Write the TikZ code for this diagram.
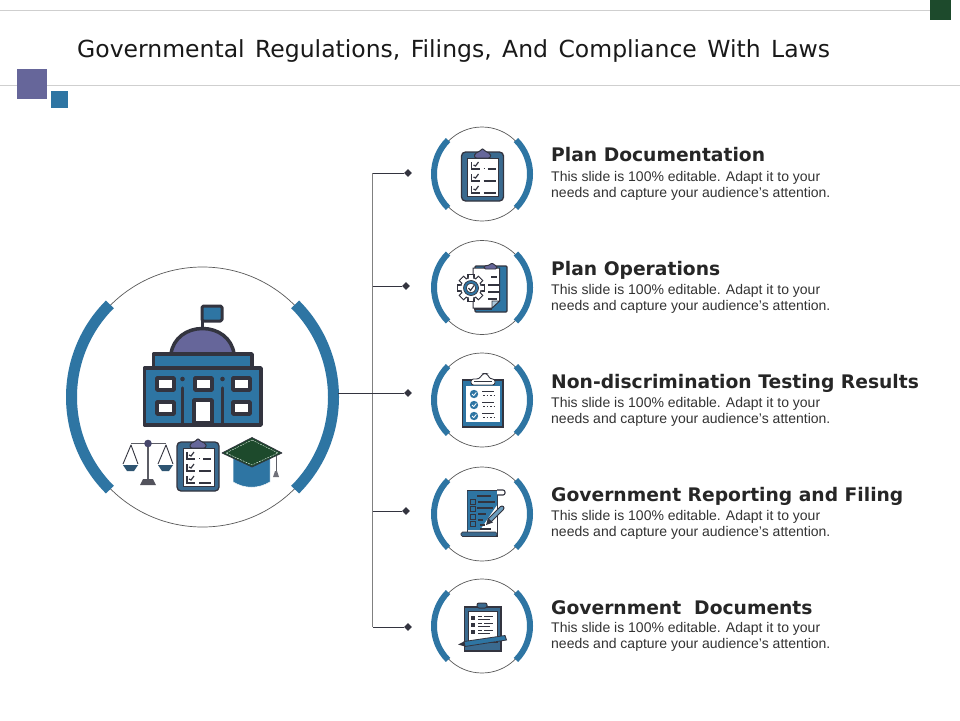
\documentclass[tikz,border=0pt]{standalone}
\usepackage{fontspec}
\setmainfont{Liberation Sans}
\newfontfamily\titlefont[WordSpace=1.4]{DejaVu Sans}
\newfontfamily\headfont{DejaVu Sans Bold}
\usetikzlibrary{shapes.geometric}
\definecolor{brandblue}{HTML}{2E75A3}
\definecolor{brandpurple}{HTML}{66669A}
\definecolor{brandgreen}{HTML}{1D4A2C}
\definecolor{inkdark}{HTML}{33343F}
\definecolor{slateblue}{HTML}{3A6A8F}
\definecolor{rulegray}{HTML}{CFCFCF}
\tikzset{
  x=1pt,y=-1pt,
  ring/.style={circle,draw=black!65,line width=0.7pt,fill=white,inner sep=0pt},
  tip/.style={diamond,fill=inkdark,inner sep=0pt,minimum size=8pt},
  wire/.style={draw=inkdark,line width=0.8pt},
  trunk/.style={draw=black!50,line width=1.2pt},
  titletext/.style={anchor=base west,inner sep=0pt,font=\titlefont\fontsize{23.5}{26}\selectfont,text=black!90},
  headtext/.style={anchor=base west,inner sep=0pt,font=\headfont\fontsize{18.7}{20}\selectfont,text=black!85},
  bodytext/.style={anchor=base west,inner sep=0pt,align=left,font=\fontsize{14}{16}\selectfont,text=black!80},
  bldg/.style={draw=inkdark,line width=3.5pt,line join=round},
  thinink/.style={draw=inkdark,line width=1.2pt},
  checklist/.pic={
    \fill[slateblue,draw=inkdark,line width=1.3pt,rounded corners=4pt] (-21,-24) rectangle (21,25);
    \fill[white,draw=inkdark,line width=0.8pt] (-15,-18) rectangle (16,20);
    \fill[brandpurple,draw=inkdark,line width=1pt,rounded corners=2pt] (-8,-18) -- (-8,-23) -- (-3,-24) -- (0,-28) -- (3,-24) -- (8,-23) -- (8,-18) -- cycle;
    \foreach \yy in {-10,2,14}{
      \draw[inkdark,line width=1.2pt] (-11,\yy-4) -- (-11,\yy+3) -- (-3,\yy+3);
      \draw[inkdark,line width=1.2pt] (-9,\yy-1) -- (-7,\yy) -- (-4,\yy-4);
    }
    \draw[inkdark,line width=1pt] (1,-8) -- (2,-8);
    \draw[inkdark,line width=1.6pt] (5,-7) -- (13,-7);
    \draw[inkdark,line width=1.3pt] (1,5) -- (13,5);
    \draw[inkdark,line width=1.3pt] (1,17) -- (13,17);
  }
}
\begin{document}
\begin{tikzpicture}
\useasboundingbox (0,0) rectangle (960,720);
\fill[white] (0,0) rectangle (960,720);
% header
\draw[rulegray,line width=1pt] (0,10.5) -- (930,10.5);
\draw[rulegray,line width=1pt] (0,85.5) -- (960,85.5);
\fill[brandgreen] (930,0) rectangle (951,20);
\fill[brandpurple] (17,69) rectangle (47,99);
\fill[brandblue] (51,91) rectangle (68,108);
\node[titletext] (title) at (77,57.5) {Governmental Regulations, Filings, And Compliance With Laws};
% hub
\node[ring,minimum size=260pt] (hub) at (202.5,397) {};
\draw[brandblue,line width=11pt] (hub.center) ++(135:131pt) arc[start angle=135,end angle=225,radius=131pt];
\draw[brandblue,line width=11pt] (hub.center) ++(-45:131pt) arc[start angle=-45,end angle=45,radius=131pt];
% rings
\foreach \n/\yy in {1/174,2/287.5,3/400,4/514,5/626}{
  \node[ring,minimum size=94pt] (ring\n) at (482,\yy) {};
  \draw[brandblue,line width=6pt] (ring\n.center) ++(135:48pt) arc[start angle=135,end angle=225,radius=48pt];
  \draw[brandblue,line width=6pt] (ring\n.center) ++(-45:48pt) arc[start angle=-45,end angle=45,radius=48pt];
}
% connectors
\node[tip] (tip1) at (408,173) {};
\node[tip] (tip2) at (406,286) {};
\node[tip] (tip3) at (408,393) {};
\node[tip] (tip4) at (406,511) {};
\node[tip] (tip5) at (408,627) {};
\coordinate (hubout) at (338,393);
\coordinate (trunktop) at (372.5,173);
\coordinate (trunkbot) at (372.5,627);
\draw[trunk] (trunktop) -- (trunkbot);
\draw[wire] (trunktop) -- (tip1);
\draw[wire] (372.5,286) -- (tip2);
\draw[wire] (hubout) -- (tip3);
\draw[wire] (372.5,511) -- (tip4);
\draw[wire] (trunkbot) -- (tip5);
% text
\node[headtext] (h1) at (551,161) {Plan Documentation};
\node[bodytext] (b1) at (551,197) {This slide is 100\% editable. Adapt it to your\\needs and capture your audience's attention.};
\node[headtext] (h2) at (551,275) {Plan Operations};
\node[bodytext] (b2) at (551,310) {This slide is 100\% editable. Adapt it to your\\needs and capture your audience's attention.};
\node[headtext] (h3) at (551,388) {Non-discrimination Testing Results};
\node[bodytext] (b3) at (551,423) {This slide is 100\% editable. Adapt it to your\\needs and capture your audience's attention.};
\node[headtext] (h4) at (551,501) {Government Reporting and Filing};
\node[bodytext] (b4) at (551,536) {This slide is 100\% editable. Adapt it to your\\needs and capture your audience's attention.};
\node[headtext] (h5) at (551,614) {Government\ \ Documents};
\node[bodytext] (b5) at (551,648) {This slide is 100\% editable. Adapt it to your\\needs and capture your audience's attention.};
% building
\draw[inkdark,line width=3pt] (202,332) -- (202,306);
\fill[brandblue,bldg,line width=3pt,rounded corners=1.5pt] (202,306) rectangle (222,321);
\fill[brandpurple,bldg] (171,354) .. controls (173,338) and (187,328.5) .. (202.5,328.5) .. controls (218,328.5) and (232,338) .. (234,354) -- cycle;
\fill[brandblue,bldg] (153.5,354) rectangle (252,368);
\fill[brandblue,bldg] (144.5,368) rectangle (261,425);
\foreach \xx/\yy in {157/378,195/378,233/378,157/402,233/402}{
  \fill[white,bldg] (\xx,\yy) rectangle ++(17,12);
}
\fill[white,bldg] (194,423) -- (194,400) -- (212,400) -- (212,423) -- cycle;
\foreach \xx in {182.5,222.5}{
  \draw[inkdark,line width=3.5pt,line cap=round] (\xx,388) -- (\xx,424);
  \fill[inkdark] (\xx,379) circle[radius=2.3pt];
}
% scales
\draw[inkdark!80,line width=1.2pt] (131,443.5) -- (166,443.5);
\draw[inkdark!80,line width=1.6pt] (148,444) -- (148,482);
\fill[brandpurple!70!black] (148,443.5) circle[radius=3.8pt];
\fill[inkdark!85] (140,485) -- (143,479) -- (153,479) -- (156,485) -- cycle;
\draw[inkdark,line width=0.9pt,line join=round] (123,464) -- (131,445) -- (138,464);
\draw[inkdark,line width=0.9pt,line join=round] (158,464) -- (166,445) -- (173,464);
\fill[slateblue!80!black] (123,465) -- (138,465) -- (134,471) -- (127,471) -- cycle;
\fill[slateblue!80!black] (158,465) -- (173,465) -- (169,471) -- (162,471) -- cycle;
% checklist boards
\pic at (198,466) {checklist};
\pic at (482.5,176) {checklist};
% cap
\fill[brandblue,draw=white,line width=0.5pt] (233,457) -- (270,457) -- (270,482) .. controls (258,489) and (245,489) .. (233,482) -- cycle;
\draw[inkdark!80,line width=0.9pt] (276,455) -- (276,472);
\fill[inkdark!70] (273,477) -- (275,471) -- (277,471) -- (279,477) -- cycle;
\fill[brandgreen,draw=inkdark,line width=0.7pt,line join=round] (252,437.5) -- (282,453) -- (252,467) -- (222,453) -- cycle;
\draw[white,line width=0.4pt,dash pattern=on 2pt off 1pt] (252,440) -- (278,453) -- (252,465) -- (226,453) -- cycle;
% gear clipboard
\fill[brandblue,draw=inkdark,line width=1.2pt,rounded corners=1pt] (475,266) rectangle (507,312);
\fill[white,draw=inkdark,line width=1pt] (473,268) -- (499.5,268) -- (499.5,301) -- (492,308) -- (473,308) -- cycle;
\fill[brandblue!40,draw=inkdark,line width=0.8pt] (499.5,301) -- (492,301) -- (492,308) -- cycle;
\fill[brandpurple,draw=inkdark,line width=0.9pt,rounded corners=1.5pt] (484,269) -- (484,266) -- (490,265) -- (492,262.5) -- (494,265) -- (497,266) -- (497,269) -- cycle;
\draw[inkdark,line width=1.4pt] (491,277) -- (497,277) (488,285) -- (499,285) (488,292) -- (499,292) (488,299) -- (497,299);
\draw[inkdark,line width=1.4pt] (474,309) -- (492,309);
\foreach \aa in {0,45,...,315}{
  \fill[white,draw=inkdark,line width=1.1pt,rotate around={\aa:(471,288)}] (468,274.5) rectangle (474,281);
}
\fill[white] (471,288) circle[radius=10.8pt];
\draw[inkdark,line width=1.1pt] (471,288) circle[radius=10.5pt];
\foreach \aa in {0,45,...,315}{
  \fill[white,rotate around={\aa:(471,288)}] (468.6,275.2) rectangle (473.4,280);
}
\fill[brandblue,draw=inkdark,line width=0.7pt] (471,288) circle[radius=7.5pt];
\fill[white,draw=inkdark,line width=0.7pt] (471,288) circle[radius=4.8pt];
\draw[inkdark,line width=1.1pt] (468.5,288) -- (470.5,290.5) -- (474,285.5);
% check circles clipboard
\fill[brandblue,draw=inkdark,line width=1.1pt] (462.5,380) rectangle (503,427);
\fill[white] (466,386) rectangle (500,422);
\fill[white,draw=inkdark,line width=0.9pt,rounded corners=2.5pt] (471,385) -- (471,379) -- (479,379) -- (483,373.5) -- (487,373.5) -- (490,379) -- (495,379) -- (495,385) -- cycle;
\draw[inkdark,line width=0.5pt] (474,381) -- (492,381);
\foreach \yy in {394,405,416}{
  \fill[brandblue] (474,\yy) circle[radius=4.2pt];
  \draw[white,line width=0.8pt] (472,\yy) -- (473.7,\yy+1.6) -- (476.3,\yy-1.6);
  \draw[inkdark,line width=1pt] (482,\yy-3) -- (494,\yy-3);
  \draw[inkdark,line width=1pt,dash pattern=on 1.5pt off 2pt] (483,\yy+1) -- (494,\yy+1);
}
% scroll
\fill[white,draw=inkdark,line width=0.8pt] (467,490) -- (497,490) -- (497,536) -- (467,536) -- cycle;
\fill[brandblue] (467.5,491) -- (497,491) -- (497,505) -- (480,530) -- (467.5,530) -- cycle;
\draw[inkdark,line width=1.1pt,rounded corners=2pt,fill=white] (497,490) -- (505,490) -- (505,495) -- (497,495);
\foreach \yy in {502,509,517,524}{
  \draw[inkdark,fill=brandblue,line width=0.9pt] (470.5,\yy-2.5) rectangle ++(5,5);
}
\draw[inkdark,line width=1.1pt] (477,496) -- (491,496) (478,502) -- (495,502) (477,508) -- (493,508) (478,514) -- (486,514) (478,520) -- (483,520) (480,525) -- (485,525) (480,529) -- (491,529);
\fill[slateblue,draw=inkdark,line width=0.7pt,rounded corners=1.5pt] (461,532) -- (497,532) -- (497,536.5) -- (461,536.5) -- cycle;
\draw[inkdark,line width=5pt,line cap=round] (490,520) -- (502,508);
\draw[brandblue!70,line width=3pt,line cap=round] (490,520) -- (502,508);
\fill[inkdark] (486,525) -- (488,518) -- (493,522.5) -- cycle;
% board with pencil
\fill[slateblue,draw=inkdark,line width=1.1pt] (464.5,607) rectangle (501,651);
\fill[white,draw=inkdark,line width=0.6pt] (468,611) rectangle (497,642);
\fill[slateblue,draw=inkdark,line width=1pt,rounded corners=2pt] (477,608) -- (477,603) -- (487,603) -- (487,608) -- cycle;
\foreach \yy in {618,625,632}{
  \fill[inkdark] (471,\yy-2) rectangle ++(4.2,4.2);
  \draw[inkdark,line width=0.8pt] (478,\yy-2) -- (482,\yy-2);
  \draw[inkdark,line width=1pt] (484,\yy-2) -- (493,\yy-2);
  \draw[inkdark,line width=0.8pt] (478,\yy+1) -- (490,\yy+1);
}
\fill[brandblue,draw=inkdark,line width=0.8pt] (464,641.5) -- (505,635.5) -- (506.5,640) -- (465,646.5) -- cycle;
\fill[inkdark] (464,641.5) -- (458,644.5) -- (465,646.5) -- cycle;
\end{tikzpicture}
\end{document}
